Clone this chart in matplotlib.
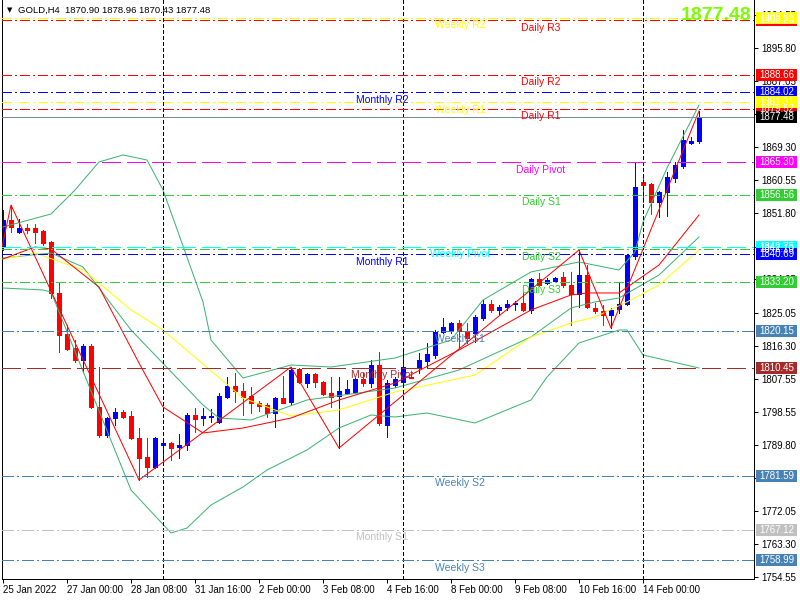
import matplotlib
matplotlib.use("Agg")
import matplotlib.pyplot as plt
from matplotlib.patches import Rectangle
from matplotlib.transforms import blended_transform_factory

plt.rcParams['font.family'] = ['Liberation Sans', 'DejaVu Sans']
plt.rcParams['lines.scale_dashes'] = False

# ---------------- data ----------------
symbol = "GOLD,H4"

opens = [
    1842.67, 1849.88, 1846.68, 1847.74, 1847.74, 1846.94, 1844.01, 1830.39, 1819.44, 1815.70,
    1812.50, 1816.24, 1799.95, 1792.47, 1797.01, 1798.62, 1797.55, 1791.67, 1786.60, 1783.93,
    1789.80, 1790.34, 1789.27, 1789.80, 1797.81, 1797.01, 1797.28, 1795.95, 1802.62, 1805.56,
    1804.22, 1802.89, 1801.02, 1800.48, 1798.35, 1802.35, 1801.29, 1810.10, 1806.36, 1808.76,
    1806.63, 1803.69, 1802.89, 1803.69, 1803.95, 1807.43, 1806.36, 1811.16, 1795.14, 1805.82,
    1806.63, 1807.96, 1810.36, 1812.23, 1813.83, 1819.98, 1820.20, 1822.38, 1820.24, 1819.71,
    1823.71, 1827.45, 1825.85, 1826.65, 1827.45, 1827.72, 1825.85, 1834.13, 1833.06, 1833.59,
    1834.66, 1832.52, 1830.12, 1835.19, 1826.38, 1825.58, 1824.51, 1826.12, 1827.45, 1840.27,
    1860.03, 1859.49, 1854.69, 1857.36, 1861.09, 1864.30, 1870.44, 1870.90]

highs = [
    1852.55, 1853.88, 1850.15, 1848.81, 1848.81, 1847.20, 1844.27, 1833.06, 1821.84, 1817.84,
    1816.77, 1816.77, 1810.63, 1797.28, 1799.68, 1799.15, 1798.88, 1794.34, 1791.67, 1791.94,
    1791.67, 1790.61, 1792.74, 1798.35, 1799.68, 1799.68, 1799.42, 1803.69, 1807.96, 1809.03,
    1806.36, 1805.29, 1801.55, 1801.02, 1802.62, 1808.23, 1810.63, 1810.40, 1809.03, 1809.03,
    1806.89, 1807.96, 1807.96, 1807.16, 1807.69, 1809.03, 1812.50, 1814.64, 1807.16, 1807.96,
    1815.17, 1808.49, 1814.37, 1817.04, 1820.51, 1823.71, 1822.65, 1823.18, 1822.38, 1824.51,
    1828.52, 1828.52, 1827.18, 1828.52, 1828.25, 1830.39, 1834.39, 1835.73, 1834.39, 1834.66,
    1836.00, 1836.00, 1841.87, 1837.86, 1827.72, 1827.18, 1826.38, 1833.33, 1840.80, 1865.37,
    1861.89, 1859.76, 1857.60, 1862.70, 1865.37, 1873.91, 1872.04, 1878.96]

lows = [
    1841.87, 1846.68, 1846.41, 1846.41, 1843.74, 1843.20, 1829.05, 1814.64, 1815.17, 1811.97,
    1809.30, 1799.68, 1791.94, 1791.94, 1795.14, 1797.01, 1791.40, 1780.46, 1781.26, 1783.66,
    1785.80, 1785.80, 1786.33, 1788.47, 1793.28, 1795.14, 1795.95, 1795.68, 1802.35, 1801.29,
    1797.81, 1798.35, 1798.88, 1797.28, 1794.61, 1800.90, 1800.48, 1806.36, 1805.29, 1805.29,
    1803.15, 1799.95, 1789.00, 1803.42, 1803.69, 1805.56, 1805.29, 1795.14, 1791.94, 1805.29,
    1806.36, 1807.69, 1809.03, 1810.36, 1813.03, 1819.71, 1819.71, 1815.70, 1817.04, 1817.31,
    1823.18, 1825.32, 1824.78, 1825.85, 1825.85, 1825.58, 1825.05, 1832.26, 1832.79, 1833.33,
    1831.99, 1821.84, 1826.65, 1826.40, 1825.05, 1821.84, 1821.04, 1825.05, 1827.18, 1839.47,
    1854.69, 1851.48, 1850.68, 1850.95, 1860.03, 1863.76, 1870.17, 1870.43]

closes = [
    1849.88, 1848.01, 1847.74, 1847.21, 1846.68, 1843.74, 1830.39, 1819.17, 1815.44, 1812.50,
    1816.24, 1799.95, 1792.47, 1797.01, 1798.62, 1797.28, 1791.67, 1786.33, 1783.93, 1791.67,
    1790.34, 1789.00, 1789.80, 1797.81, 1796.75, 1797.55, 1797.55, 1802.89, 1805.56, 1804.22,
    1802.62, 1801.02, 1800.22, 1798.35, 1802.35, 1801.02, 1809.83, 1806.63, 1808.76, 1806.63,
    1803.42, 1802.62, 1804.22, 1804.76, 1807.43, 1806.36, 1811.16, 1795.68, 1806.36, 1807.43,
    1810.63, 1807.75, 1812.50, 1814.10, 1819.98, 1821.30, 1822.38, 1820.24, 1818.37, 1823.98,
    1827.45, 1825.85, 1826.65, 1827.45, 1827.72, 1825.85, 1834.13, 1832.52, 1833.86, 1834.39,
    1832.52, 1830.12, 1835.19, 1826.65, 1825.58, 1824.51, 1825.85, 1827.45, 1840.53, 1858.69,
    1859.22, 1854.69, 1857.36, 1861.36, 1864.56, 1871.24, 1870.90, 1877.48]

xtick_bars = [0, 8, 16, 24, 32, 40, 48, 56, 64, 72, 80]
xtick_labels = ["25 Jan 2022", "27 Jan 00:00", "28 Jan 08:00", "31 Jan 16:00",
                "2 Feb 00:00", "3 Feb 08:00", "4 Feb 16:00", "8 Feb 00:00",
                "9 Feb 08:00", "10 Feb 16:00", "14 Feb 00:00"]

ytick_values = [1754.55, 1763.30, 1772.05, 1781.05, 1789.80, 1798.55, 1807.55, 1816.30,
                1825.05, 1834.05, 1842.80, 1851.80, 1860.55, 1869.30, 1878.30, 1887.05,
                1895.80, 1904.55]

separator_bars = [20, 50, 80]

# Pivot levels (drawing order = stacking order of the price boxes)
pivot_names = ["Daily R3", "Weekly R2", "Daily R2", "Monthly R2", "Daily R1", "Weekly R1",
               "Daily Pivot", "Daily S1", "Daily S2", "Weekly Pivot", "Monthly R1",
               "Daily S3", "Weekly S1", "Monthly Pivot", "Weekly S2", "Monthly S1",
               "Weekly S3"]
pivot_values = [1903.20, 1903.91, 1888.66, 1884.02, 1879.52, 1881.31,
                1865.30, 1856.56, 1842.10, 1842.75, 1840.69,
                1833.20, 1820.15, 1810.45, 1781.59, 1767.12,
                1758.99]
pivot_colors = ["#FF0000", "#FFFF00", "#FF0000", "#0000FF", "#FF0000", "#FFFF00",
                "#FF00FF", "#32CD32", "#32CD32", "#00FFFF", "#0000FF",
                "#32CD32", "#4682B4", "#A52A2A", "#4682B4", "#C0C0C0",
                "#4682B4"]
pivot_styles = ["dd", "dd", "dd", "dd", "dd", "dd",
                "dash", "dd", "dd", "dash", "dd",
                "dd", "ddl", "dash", "ddl", "ddl",
                "ddl"]

# Bollinger bands (20) and moving averages, read at selected bars
bb_upper_bars = [0, 6, 9, 12, 15, 18, 20, 25, 26, 30, 36, 41, 49, 56, 60, 66, 72, 77, 79, 80, 83, 87]
bb_upper_vals = [1848.01, 1851.48, 1857.89, 1865.37, 1867.24, 1865.90, 1857.89, 1827.99, 1817.84,
                 1807.69, 1811.16, 1810.63, 1813.03, 1817.84, 1828.52, 1836.00, 1838.67, 1836.53,
                 1841.34, 1849.35, 1863.76, 1880.58]
bb_mid_bars = [0, 6, 10, 16, 25, 27, 31, 38, 49, 57, 66, 71, 74, 77, 82, 87]
bb_mid_vals = [1839.73, 1841.07, 1837.33, 1820.51, 1800.48, 1797.01, 1796.48, 1801.82, 1805.02,
               1809.83, 1818.64, 1826.38, 1827.99, 1829.05, 1835.19, 1845.34]
bb_lower_bars = [0, 5, 6, 16, 21, 23, 26, 30, 33, 38, 42, 46, 49, 53, 59, 66, 68, 72, 77, 78, 80, 87]
bb_lower_vals = [1831.72, 1831.19, 1830.66, 1777.79, 1766.31, 1767.64, 1773.78, 1778.59, 1783.13,
                 1788.47, 1794.34, 1797.81, 1797.28, 1798.35, 1795.68, 1801.82, 1807.96, 1817.04,
                 1820.51, 1820.51, 1813.83, 1810.36]
ma_red_bars = [0, 4, 6, 12, 17, 20, 25, 30, 36, 42, 49, 57, 66, 71, 73, 77, 82, 87]
ma_red_vals = [1839.47, 1842.67, 1842.14, 1831.99, 1811.70, 1799.95, 1793.01, 1794.34, 1797.01,
               1801.82, 1806.36, 1815.17, 1825.85, 1829.86, 1830.39, 1830.39, 1837.86, 1851.21]
ma_yellow_bars = [0, 4, 10, 12, 16, 20, 25, 30, 36, 38, 42, 49, 59, 66, 71, 74, 78, 82, 87]
ma_yellow_vals = [1839.47, 1841.07, 1836.53, 1833.06, 1825.85, 1820.51, 1811.43, 1802.35, 1797.55,
                  1798.08, 1799.15, 1803.95, 1808.49, 1818.64, 1822.38, 1823.98, 1827.99, 1832.52,
                  1841.87]
zigzag_bars = [-1, 1, 17, 36, 42, 72, 76, 87]
zigzag_vals = [1833.90, 1853.88, 1780.46, 1810.63, 1789.00, 1841.87, 1821.04, 1878.96]

# ---------------- styling ----------------
W, H = 800, 600
PX_L, PX_R, PX_T, PX_B = 2, 754, 0, 579      # plot area in pixels
BAR0_PX, BAR_STEP = 3, 8                      # bar spacing in pixels
Y_TOP, PX_PER_PRICE = 1908.62, 1 / 0.26701
BULL, BEAR = "#0000FF", "#FF0000"
BB_COLOR = "#3CB371"
LW = 0.72
DASHES = {"dd": (0, (6.5, 2.2, 1.4, 2.2)),
          "ddl": (0, (8.5, 2.2, 1.4, 2.2)),
          "dash": (0, (13, 4.5))}

fig = plt.figure(figsize=(W / 100, H / 100), dpi=100)
fig.patch.set_facecolor("white")
ax = fig.add_axes([PX_L / W, 1 - PX_B / H, (PX_R - PX_L) / W, (PX_B - PX_T) / H])
ax.set_facecolor("white")

ax.set_xlim((PX_L - BAR0_PX) / BAR_STEP, (PX_R - BAR0_PX) / BAR_STEP)
ax.set_ylim(Y_TOP - (PX_B - PX_T) / PX_PER_PRICE, Y_TOP)

def ax_frac_x(px):
    return (px - PX_L) / (PX_R - PX_L)

def px_to_price(dpx):
    return dpx / PX_PER_PRICE

# candles
for i, (o, h, l, c) in enumerate(zip(opens, highs, lows, closes)):
    col = BULL if c >= o else BEAR
    ax.vlines(i, l, h, color=col, lw=LW, zorder=2, antialiased=False)
    lo, hi = min(o, c), max(o, c)
    ax.add_patch(Rectangle((i - 0.27, lo), 0.54, max(hi - lo, 0.001), facecolor=col,
                           edgecolor=col, lw=0.7, zorder=2.1, antialiased=False))

# indicators
ax.plot(bb_upper_bars, bb_upper_vals, color=BB_COLOR, lw=LW, zorder=3)
ax.plot(bb_mid_bars, bb_mid_vals, color=BB_COLOR, lw=LW, zorder=3)
ax.plot(bb_lower_bars, bb_lower_vals, color=BB_COLOR, lw=LW, zorder=3)
ax.plot(ma_yellow_bars, ma_yellow_vals, color="#FFFF00", lw=LW, zorder=3)
ax.plot(ma_red_bars, ma_red_vals, color="#FF0000", lw=LW, zorder=3)
ax.plot(zigzag_bars, zigzag_vals, color="#FF0000", lw=LW, zorder=3)

# period separators
for b in separator_bars:
    ax.axvline(b, color="black", lw=LW, ls=(0, (2.2, 1.5)), zorder=3.5, antialiased=False)

# pivot lines + in-chart labels
label_x = {"Daily": (541 - BAR0_PX) / BAR_STEP,
           "Weekly": (460 - BAR0_PX) / BAR_STEP,
           "Monthly": (382 - BAR0_PX) / BAR_STEP}
for name, val, col, sty in zip(pivot_names, pivot_values, pivot_colors, pivot_styles):
    ax.axhline(val, color=col, lw=LW, ls=DASHES[sty], zorder=4, antialiased=False)
    ax.text(label_x[name.split()[0]], val - px_to_price(7.5), name, color=col,
            fontsize=7.5, ha="center", va="center", zorder=5)

# current price line
last = closes[-1]
ax.axhline(last, color="#778899", lw=LW, zorder=4, antialiased=False)

# axes frame and ticks
ax.spines["top"].set_visible(False)
for s in ("left", "bottom", "right"):
    ax.spines[s].set_color("black")
    ax.spines[s].set_linewidth(LW)

ax.yaxis.tick_right()
ax.set_yticks(ytick_values)
ax.set_yticklabels([f"{v:.2f}" for v in ytick_values])
ax.tick_params(axis="y", direction="out", length=3, width=LW, labelsize=7, pad=2,
               colors="black")
ax.set_xticks(xtick_bars)
ax.set_xticklabels(xtick_labels)
ax.tick_params(axis="x", direction="out", length=3, width=LW, labelsize=7, pad=1.5,
               colors="black")
for lbl in ax.get_xticklabels():
    lbl.set_horizontalalignment("left")

# price boxes on the right axis
trans = blended_transform_factory(ax.transAxes, ax.transData)
box_x0 = ax_frac_x(756)
box_w = ax_frac_x(797) - box_x0
box_h = px_to_price(12)
box_vals = pivot_values + [last]
box_cols = pivot_colors + ["#000000"]
for val, col in zip(box_vals, box_cols):
    ax.add_patch(Rectangle((box_x0, val - box_h / 2), box_w, box_h, transform=trans,
                           facecolor=col, edgecolor="none", clip_on=False, zorder=10))
    ax.text(ax_frac_x(759), val, f"{val:.2f}", transform=trans, color="white",
            fontsize=7, ha="left", va="center", clip_on=False, zorder=11)

# big last price
ax.text(ax_frac_x(752), 1 - 15 / (PX_B - PX_T), f"{last:.2f}", transform=ax.transAxes,
        ha="right", va="center", fontsize=14, fontweight="bold", color="#7CFC00", zorder=12)

# header
fig.text(7 / W, 1 - 10 / H, "\u25BC", fontsize=5, va="center", ha="left",
         family=["DejaVu Sans"])
fig.text(18 / W, 1 - 10 / H,
         f"{symbol}  {opens[-1]:.2f} {highs[-1]:.2f} {lows[-1]:.2f} {closes[-1]:.2f}",
         fontsize=6.8, va="center", ha="left", color="black")

fig.savefig("out.png", dpi=100, facecolor="white")
